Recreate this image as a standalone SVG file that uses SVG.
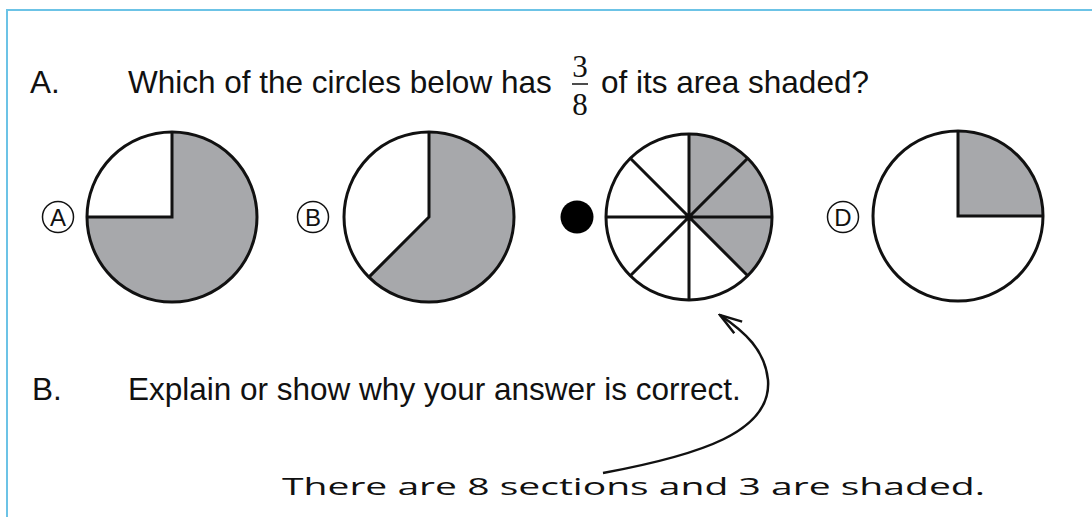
<svg xmlns="http://www.w3.org/2000/svg" width="1092" height="517" viewBox="0 0 1092 517">
<style>
.t{font-family:"Liberation Sans",Arial,sans-serif;font-size:31.5px;fill:#111}
.frac{font-family:"Liberation Serif","Times New Roman",serif;font-size:31px;fill:#111}
.ring{fill:none;stroke:#111;stroke-width:3}
.shade{fill:#a7a8ab;stroke:none}
.div{stroke:#111;stroke-width:3;fill:none}
.lab{fill:#fff;stroke:#111;stroke-width:1.5}
.labt{font-family:"Liberation Sans",Arial,sans-serif;font-size:24px;fill:#111;text-anchor:middle}
.hand{font-family:"Open Sans","DejaVu Sans",sans-serif;font-weight:400;font-size:23px;fill:#111}
</style>
<defs>
<marker id="ah" viewBox="0 0 26 24" refX="24" refY="12" markerWidth="26" markerHeight="24" markerUnits="userSpaceOnUse" orient="auto">
<path d="M2,5 L24,12 L2,19" fill="none" stroke="#111" stroke-width="2.5" stroke-linejoin="miter"/>
</marker>
</defs>
<rect width="1092" height="517" fill="#fff"/>
<g id="frame">
<path d="M7,517 L7,10 L1092,10" fill="none" stroke="#6cc3e6" stroke-width="2"/>
</g>
<g id="question-a">
<text class="t" x="30" y="93">A.</text>
<text class="t" x="128" y="93">Which of the circles below has</text>
<text class="frac" x="580" y="77" text-anchor="middle">3</text>
<line x1="572" y1="84" x2="588" y2="84" stroke="#111" stroke-width="1.5"/>
<text class="frac" x="580" y="115" text-anchor="middle">8</text>
<text class="t" x="601" y="93">of its area shaded?</text>
</g>
<g id="option-a">
<circle class="lab" cx="58" cy="217" r="15.5"/>
<text class="labt" x="58" y="225.5">A</text>
<path class="shade" d="M172,217 L172,132 A85,85 0 1,1 87,217 Z"/>
<circle class="ring" cx="172" cy="217" r="85"/>
<path class="div" d="M172,132 L172,217 L87,217"/>
</g>
<g id="option-b">
<circle class="lab" cx="313" cy="217" r="15.5"/>
<text class="labt" x="313" y="225.5">B</text>
<path class="shade" d="M429,217 L429,132 A85,85 0 1,1 368.9,277.1 Z"/>
<circle class="ring" cx="429" cy="217" r="85"/>
<path class="div" d="M429,132 L429,217 L368.9,277.1"/>
</g>
<g id="option-c">
<circle cx="577" cy="217" r="16.5" fill="#000"/>
<path class="shade" d="M689,217 L689,134 A83,83 0 0,1 747.7,275.7 Z"/>
<circle class="ring" cx="689" cy="217" r="83"/>
<path class="div" d="M689,134 L689,300 M606,217 L772,217 M747.7,158.3 L630.3,275.7 M747.7,275.7 L630.3,158.3"/>
</g>
<g id="option-d">
<circle class="lab" cx="843" cy="217" r="15.5"/>
<text class="labt" x="843" y="225.5">D</text>
<path class="shade" d="M958,216 L958,131 A85,85 0 0,1 1043,216 Z"/>
<circle class="ring" cx="958" cy="216" r="85"/>
<path class="div" d="M958,131 L958,216 L1043,216"/>
</g>
<g id="question-b">
<text class="t" x="32" y="400">B.</text>
<text class="t" x="128" y="400">Explain or show why your answer is correct.</text>
</g>
<g id="connectors">
<path d="M603,473 C700,455 772,432 768,380 C765,350 745,332 720,315" fill="none" stroke="#111" stroke-width="2.5" marker-end="url(#ah)"/>
</g>
<g id="answer">
<text class="hand" x="282" y="495" textLength="703" lengthAdjust="spacingAndGlyphs">There are 8 sections and 3 are shaded.</text>
</g>
</svg>
